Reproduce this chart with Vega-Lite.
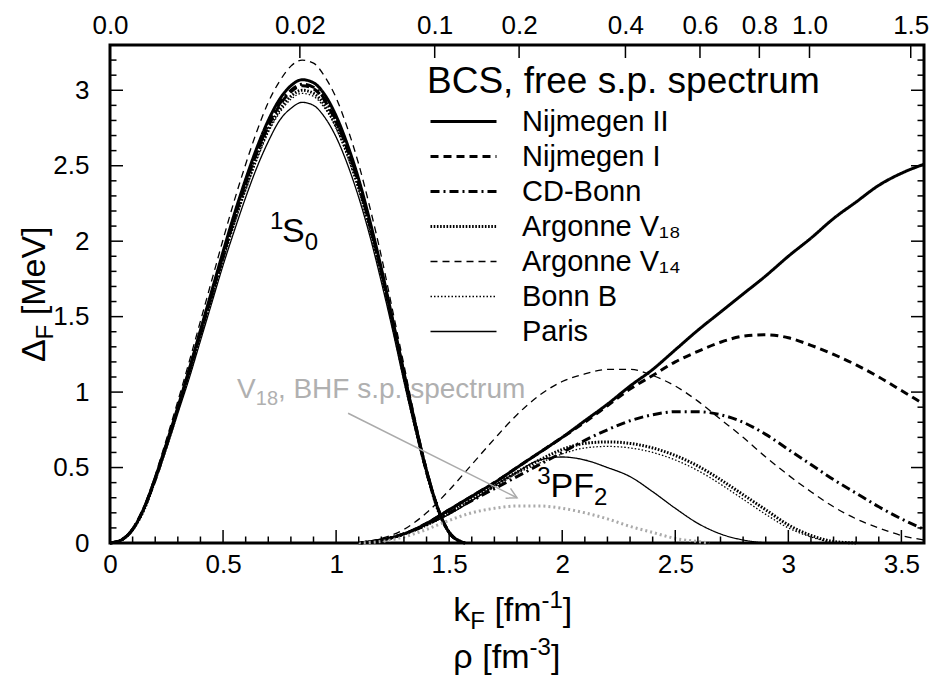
{
  "$schema": "https://vega.github.io/schema/vega-lite/v6.json",
  "width": 814,
  "height": 498,
  "autosize": {"type": "none"},
  "padding": {"left": 110, "top": 45, "right": 12, "bottom": 143},
  "background": "white",
  "config": {
    "view": {"stroke": "black", "strokeWidth": 3},
    "axis": {"domain": false, "grid": false, "ticks": false, "labelFont": "Liberation Sans", "labelFontSize": 26, "labelColor": "black", "labelFlush": false, "labelOverlap": false, "labelBound": false},
    "legend": {"labelFont": "Liberation Sans", "labelFontSize": 29, "labelColor": "black", "titleFont": "Liberation Sans", "titleFontSize": 37, "titleFontWeight": "normal", "titleColor": "black", "labelLimit": 0, "titleLimit": 0},
    "text": {"font": "Liberation Sans"}
  },
  "datasets": {
    "lab": [
      {"r": "m", "t": "S", "k": 0.761, "d": 1.993},
      {"r": "m", "t": "PF", "k": 1.948, "d": 0.305},
      {"r": "m", "t": "k", "k": 1.5177, "d": -0.5166},
      {"r": "m", "t": "[fm", "k": 1.70, "d": -0.5166},
      {"r": "m", "t": "]", "k": 2.0027, "d": -0.5166},
      {"r": "m", "t": "ρ", "k": 1.5177, "d": -0.8278},
      {"r": "m", "t": "[fm", "k": 1.6468, "d": -0.8278},
      {"r": "m", "t": "]", "k": 1.95, "d": -0.8278},
      {"r": "p", "t": "1", "k": 0.708, "d": 1.993},
      {"r": "p", "t": "3", "k": 1.89, "d": 0.305},
      {"r": "p", "t": "-1", "k": 1.9088, "d": -0.5166},
      {"r": "p", "t": "-3", "k": 1.8553, "d": -0.8278},
      {"r": "b", "t": "0", "k": 0.8615, "d": 1.993},
      {"r": "b", "t": "2", "k": 2.141, "d": 0.305},
      {"r": "b", "t": "F", "k": 1.5929, "d": -0.5166},
      {"r": "rm", "t": "Δ", "k": -0.2876, "d": 1.199},
      {"r": "rm", "t": "[MeV]", "k": -0.2876, "d": 1.509},
      {"r": "rb", "t": "F", "k": -0.2876, "d": 1.349},
      {"r": "gm", "t": "V", "k": 0.5619, "d": 0.96},
      {"r": "gm", "t": ", BHF s.p. spectrum", "k": 0.7425, "d": 0.96},
      {"r": "gb", "t": "18", "k": 0.6447, "d": 0.96}
    ]
  },
  "resolve": {"axis": {"x": "independent", "y": "independent"}},
  "layer": [
    {
      "data": {"values": [
        {"w": "S", "k": 0, "Nijmegen II": 0, "Nijmegen I": 0, "CD-Bonn": 0, "Argonne V₁₈": 0, "Argonne V₁₄": 0, "Bonn B": 0, "Paris": 0},
        {"w": "S", "k": 0.05, "Nijmegen II": 0.02, "Nijmegen I": 0.02, "CD-Bonn": 0.02, "Argonne V₁₈": 0.02, "Argonne V₁₄": 0.02, "Bonn B": 0.02, "Paris": 0.02},
        {"w": "S", "k": 0.1, "Nijmegen II": 0.09, "Nijmegen I": 0.09, "CD-Bonn": 0.09, "Argonne V₁₈": 0.09, "Argonne V₁₄": 0.09, "Bonn B": 0.09, "Paris": 0.09},
        {"w": "S", "k": 0.15, "Nijmegen II": 0.23, "Nijmegen I": 0.23, "CD-Bonn": 0.23, "Argonne V₁₈": 0.22, "Argonne V₁₄": 0.24, "Bonn B": 0.22, "Paris": 0.22},
        {"w": "S", "k": 0.2, "Nijmegen II": 0.43, "Nijmegen I": 0.42, "CD-Bonn": 0.43, "Argonne V₁₈": 0.42, "Argonne V₁₄": 0.45, "Bonn B": 0.42, "Paris": 0.41},
        {"w": "S", "k": 0.25, "Nijmegen II": 0.66, "Nijmegen I": 0.65, "CD-Bonn": 0.65, "Argonne V₁₈": 0.64, "Argonne V₁₄": 0.69, "Bonn B": 0.64, "Paris": 0.63},
        {"w": "S", "k": 0.3, "Nijmegen II": 0.9, "Nijmegen I": 0.89, "CD-Bonn": 0.89, "Argonne V₁₈": 0.88, "Argonne V₁₄": 0.94, "Bonn B": 0.87, "Paris": 0.86},
        {"w": "S", "k": 0.35, "Nijmegen II": 1.15, "Nijmegen I": 1.14, "CD-Bonn": 1.14, "Argonne V₁₈": 1.12, "Argonne V₁₄": 1.2, "Bonn B": 1.12, "Paris": 1.09},
        {"w": "S", "k": 0.4, "Nijmegen II": 1.41, "Nijmegen I": 1.39, "CD-Bonn": 1.4, "Argonne V₁₈": 1.38, "Argonne V₁₄": 1.47, "Bonn B": 1.37, "Paris": 1.34},
        {"w": "S", "k": 0.45, "Nijmegen II": 1.67, "Nijmegen I": 1.65, "CD-Bonn": 1.65, "Argonne V₁₈": 1.63, "Argonne V₁₄": 1.74, "Bonn B": 1.62, "Paris": 1.59},
        {"w": "S", "k": 0.5, "Nijmegen II": 1.93, "Nijmegen I": 1.9, "CD-Bonn": 1.91, "Argonne V₁₈": 1.89, "Argonne V₁₄": 2.01, "Bonn B": 1.87, "Paris": 1.84},
        {"w": "S", "k": 0.55, "Nijmegen II": 2.18, "Nijmegen I": 2.15, "CD-Bonn": 2.16, "Argonne V₁₈": 2.13, "Argonne V₁₄": 2.27, "Bonn B": 2.11, "Paris": 2.07},
        {"w": "S", "k": 0.6, "Nijmegen II": 2.41, "Nijmegen I": 2.38, "CD-Bonn": 2.39, "Argonne V₁₈": 2.35, "Argonne V₁₄": 2.51, "Bonn B": 2.34, "Paris": 2.29},
        {"w": "S", "k": 0.65, "Nijmegen II": 2.62, "Nijmegen I": 2.59, "CD-Bonn": 2.59, "Argonne V₁₈": 2.56, "Argonne V₁₄": 2.73, "Bonn B": 2.54, "Paris": 2.49},
        {"w": "S", "k": 0.7, "Nijmegen II": 2.8, "Nijmegen I": 2.76, "CD-Bonn": 2.77, "Argonne V₁₈": 2.74, "Argonne V₁₄": 2.92, "Bonn B": 2.72, "Paris": 2.66},
        {"w": "S", "k": 0.75, "Nijmegen II": 2.94, "Nijmegen I": 2.9, "CD-Bonn": 2.91, "Argonne V₁₈": 2.87, "Argonne V₁₄": 3.06, "Bonn B": 2.85, "Paris": 2.8},
        {"w": "S", "k": 0.8, "Nijmegen II": 3.03, "Nijmegen I": 2.99, "CD-Bonn": 3.0, "Argonne V₁₈": 2.96, "Argonne V₁₄": 3.16, "Bonn B": 2.94, "Paris": 2.88},
        {"w": "S", "k": 0.85, "Nijmegen II": 3.07, "Nijmegen I": 3.03, "CD-Bonn": 3.04, "Argonne V₁₈": 3.0, "Argonne V₁₄": 3.2, "Bonn B": 2.98, "Paris": 2.92},
        {"w": "S", "k": 0.9, "Nijmegen II": 3.05, "Nijmegen I": 3.01, "CD-Bonn": 3.02, "Argonne V₁₈": 2.98, "Argonne V₁₄": 3.18, "Bonn B": 2.96, "Paris": 2.9},
        {"w": "S", "k": 0.95, "Nijmegen II": 2.97, "Nijmegen I": 2.93, "CD-Bonn": 2.94, "Argonne V₁₈": 2.9, "Argonne V₁₄": 3.09, "Bonn B": 2.88, "Paris": 2.82},
        {"w": "S", "k": 1.0, "Nijmegen II": 2.83, "Nijmegen I": 2.79, "CD-Bonn": 2.8, "Argonne V₁₈": 2.76, "Argonne V₁₄": 2.95, "Bonn B": 2.75, "Paris": 2.69},
        {"w": "S", "k": 1.05, "Nijmegen II": 2.64, "Nijmegen I": 2.61, "CD-Bonn": 2.61, "Argonne V₁₈": 2.58, "Argonne V₁₄": 2.75, "Bonn B": 2.56, "Paris": 2.51},
        {"w": "S", "k": 1.1, "Nijmegen II": 2.41, "Nijmegen I": 2.38, "CD-Bonn": 2.39, "Argonne V₁₈": 2.35, "Argonne V₁₄": 2.51, "Bonn B": 2.34, "Paris": 2.29},
        {"w": "S", "k": 1.15, "Nijmegen II": 2.13, "Nijmegen I": 2.1, "CD-Bonn": 2.11, "Argonne V₁₈": 2.08, "Argonne V₁₄": 2.22, "Bonn B": 2.07, "Paris": 2.03},
        {"w": "S", "k": 1.2, "Nijmegen II": 1.82, "Nijmegen I": 1.8, "CD-Bonn": 1.8, "Argonne V₁₈": 1.78, "Argonne V₁₄": 1.9, "Bonn B": 1.77, "Paris": 1.73},
        {"w": "S", "k": 1.25, "Nijmegen II": 1.48, "Nijmegen I": 1.46, "CD-Bonn": 1.47, "Argonne V₁₈": 1.45, "Argonne V₁₄": 1.54, "Bonn B": 1.44, "Paris": 1.41},
        {"w": "S", "k": 1.3, "Nijmegen II": 1.13, "Nijmegen I": 1.12, "CD-Bonn": 1.12, "Argonne V₁₈": 1.1, "Argonne V₁₄": 1.18, "Bonn B": 1.1, "Paris": 1.07},
        {"w": "S", "k": 1.35, "Nijmegen II": 0.79, "Nijmegen I": 0.78, "CD-Bonn": 0.78, "Argonne V₁₈": 0.77, "Argonne V₁₄": 0.82, "Bonn B": 0.77, "Paris": 0.75},
        {"w": "S", "k": 1.4, "Nijmegen II": 0.48, "Nijmegen I": 0.47, "CD-Bonn": 0.48, "Argonne V₁₈": 0.47, "Argonne V₁₄": 0.5, "Bonn B": 0.47, "Paris": 0.46},
        {"w": "S", "k": 1.45, "Nijmegen II": 0.23, "Nijmegen I": 0.23, "CD-Bonn": 0.23, "Argonne V₁₈": 0.22, "Argonne V₁₄": 0.24, "Bonn B": 0.22, "Paris": 0.22},
        {"w": "S", "k": 1.5, "Nijmegen II": 0.07, "Nijmegen I": 0.07, "CD-Bonn": 0.07, "Argonne V₁₈": 0.07, "Argonne V₁₄": 0.07, "Bonn B": 0.07, "Paris": 0.07},
        {"w": "S", "k": 1.55, "Nijmegen II": 0.01, "Nijmegen I": 0.01, "CD-Bonn": 0.01, "Argonne V₁₈": 0.01, "Argonne V₁₄": 0.01, "Bonn B": 0.01, "Paris": 0.01},
        {"w": "S", "k": 1.57, "Nijmegen II": 0, "Nijmegen I": 0, "CD-Bonn": 0, "Argonne V₁₈": 0, "Argonne V₁₄": 0, "Bonn B": 0, "Paris": 0},
        {"w": "P", "k": 1.1, "Nijmegen II": 0, "Nijmegen I": 0, "CD-Bonn": 0, "Argonne V₁₈": 0, "Argonne V₁₄": 0, "Bonn B": 0, "Paris": 0},
        {"w": "P", "k": 1.2, "Nijmegen II": 0.02, "Nijmegen I": 0.02, "CD-Bonn": 0.02, "Argonne V₁₈": 0.02, "Argonne V₁₄": 0.03, "Bonn B": 0.02, "Paris": 0.02},
        {"w": "P", "k": 1.3, "Nijmegen II": 0.06, "Nijmegen I": 0.06, "CD-Bonn": 0.06, "Argonne V₁₈": 0.06, "Argonne V₁₄": 0.09, "Bonn B": 0.06, "Paris": 0.06},
        {"w": "P", "k": 1.4, "Nijmegen II": 0.13, "Nijmegen I": 0.13, "CD-Bonn": 0.12, "Argonne V₁₈": 0.12, "Argonne V₁₄": 0.2, "Bonn B": 0.12, "Paris": 0.12},
        {"w": "P", "k": 1.5, "Nijmegen II": 0.22, "Nijmegen I": 0.22, "CD-Bonn": 0.2, "Argonne V₁₈": 0.2, "Argonne V₁₄": 0.35, "Bonn B": 0.19, "Paris": 0.19},
        {"w": "P", "k": 1.6, "Nijmegen II": 0.31, "Nijmegen I": 0.31, "CD-Bonn": 0.28, "Argonne V₁₈": 0.29, "Argonne V₁₄": 0.52, "Bonn B": 0.28, "Paris": 0.28},
        {"w": "P", "k": 1.7, "Nijmegen II": 0.4, "Nijmegen I": 0.4, "CD-Bonn": 0.36, "Argonne V₁₈": 0.38, "Argonne V₁₄": 0.69, "Bonn B": 0.37, "Paris": 0.38},
        {"w": "P", "k": 1.8, "Nijmegen II": 0.5, "Nijmegen I": 0.5, "CD-Bonn": 0.44, "Argonne V₁₈": 0.47, "Argonne V₁₄": 0.85, "Bonn B": 0.46, "Paris": 0.47},
        {"w": "P", "k": 1.9, "Nijmegen II": 0.6, "Nijmegen I": 0.6, "CD-Bonn": 0.52, "Argonne V₁₈": 0.55, "Argonne V₁₄": 0.98, "Bonn B": 0.53, "Paris": 0.55},
        {"w": "P", "k": 2.0, "Nijmegen II": 0.7, "Nijmegen I": 0.7, "CD-Bonn": 0.6, "Argonne V₁₈": 0.62, "Argonne V₁₄": 1.07, "Bonn B": 0.59, "Paris": 0.57},
        {"w": "P", "k": 2.1, "Nijmegen II": 0.81, "Nijmegen I": 0.8, "CD-Bonn": 0.68, "Argonne V₁₈": 0.66, "Argonne V₁₄": 1.12, "Bonn B": 0.63, "Paris": 0.55},
        {"w": "P", "k": 2.2, "Nijmegen II": 0.92, "Nijmegen I": 0.91, "CD-Bonn": 0.75, "Argonne V₁₈": 0.67, "Argonne V₁₄": 1.15, "Bonn B": 0.64, "Paris": 0.5},
        {"w": "P", "k": 2.3, "Nijmegen II": 1.04, "Nijmegen I": 1.02, "CD-Bonn": 0.81, "Argonne V₁₈": 0.66, "Argonne V₁₄": 1.15, "Bonn B": 0.63, "Paris": 0.44},
        {"w": "P", "k": 2.4, "Nijmegen II": 1.15, "Nijmegen I": 1.11, "CD-Bonn": 0.85, "Argonne V₁₈": 0.63, "Argonne V₁₄": 1.11, "Bonn B": 0.6, "Paris": 0.34},
        {"w": "P", "k": 2.5, "Nijmegen II": 1.28, "Nijmegen I": 1.2, "CD-Bonn": 0.87, "Argonne V₁₈": 0.58, "Argonne V₁₄": 1.04, "Bonn B": 0.55, "Paris": 0.23},
        {"w": "P", "k": 2.6, "Nijmegen II": 1.41, "Nijmegen I": 1.27, "CD-Bonn": 0.87, "Argonne V₁₈": 0.51, "Argonne V₁₄": 0.94, "Bonn B": 0.48, "Paris": 0.13},
        {"w": "P", "k": 2.7, "Nijmegen II": 1.53, "Nijmegen I": 1.33, "CD-Bonn": 0.85, "Argonne V₁₈": 0.42, "Argonne V₁₄": 0.82, "Bonn B": 0.39, "Paris": 0.06},
        {"w": "P", "k": 2.8, "Nijmegen II": 1.65, "Nijmegen I": 1.37, "CD-Bonn": 0.8, "Argonne V₁₈": 0.32, "Argonne V₁₄": 0.7, "Bonn B": 0.29, "Paris": 0.02},
        {"w": "P", "k": 2.9, "Nijmegen II": 1.77, "Nijmegen I": 1.38, "CD-Bonn": 0.72, "Argonne V₁₈": 0.22, "Argonne V₁₄": 0.57, "Bonn B": 0.19, "Paris": 0},
        {"w": "P", "k": 3.0, "Nijmegen II": 1.9, "Nijmegen I": 1.36, "CD-Bonn": 0.62, "Argonne V₁₈": 0.12, "Argonne V₁₄": 0.45, "Bonn B": 0.1, "Paris": null},
        {"w": "P", "k": 3.1, "Nijmegen II": 2.02, "Nijmegen I": 1.31, "CD-Bonn": 0.52, "Argonne V₁₈": 0.05, "Argonne V₁₄": 0.34, "Bonn B": 0.04, "Paris": null},
        {"w": "P", "k": 3.2, "Nijmegen II": 2.15, "Nijmegen I": 1.25, "CD-Bonn": 0.42, "Argonne V₁₈": 0.01, "Argonne V₁₄": 0.24, "Bonn B": 0, "Paris": null},
        {"w": "P", "k": 3.3, "Nijmegen II": 2.26, "Nijmegen I": 1.18, "CD-Bonn": 0.33, "Argonne V₁₈": 0, "Argonne V₁₄": 0.16, "Bonn B": null, "Paris": null},
        {"w": "P", "k": 3.4, "Nijmegen II": 2.37, "Nijmegen I": 1.1, "CD-Bonn": 0.24, "Argonne V₁₈": null, "Argonne V₁₄": 0.1, "Bonn B": null, "Paris": null},
        {"w": "P", "k": 3.5, "Nijmegen II": 2.45, "Nijmegen I": 1.01, "CD-Bonn": 0.16, "Argonne V₁₈": null, "Argonne V₁₄": 0.05, "Bonn B": null, "Paris": null},
        {"w": "P", "k": 3.6, "Nijmegen II": 2.51, "Nijmegen I": 0.92, "CD-Bonn": 0.09, "Argonne V₁₈": null, "Argonne V₁₄": 0.02, "Bonn B": null, "Paris": null}
      ]},
      "transform": [{"fold": ["Nijmegen II", "Nijmegen I", "CD-Bonn", "Argonne V₁₈", "Argonne V₁₄", "Bonn B", "Paris"], "as": ["s", "d"]}],
      "mark": {"type": "line", "color": "black", "interpolate": "monotone"},
      "encoding": {
        "x": {"field": "k", "type": "quantitative", "scale": {"domain": [0, 3.6], "nice": false, "zero": false},
              "axis": {"orient": "bottom", "title": null, "values": [0, 0.5, 1, 1.5, 2, 2.5, 3, 3.5], "format": "~g", "labelPadding": 8}},
        "y": {"field": "d", "type": "quantitative", "scale": {"domain": [0, 3.3], "nice": false, "zero": false},
              "axis": {"orient": "left", "title": null, "values": [0, 0.5, 1, 1.5, 2, 2.5, 3], "format": "~g", "labelPadding": 21}},
        "detail": {"field": "w"},
        "strokeDash": {"field": "s", "type": "nominal",
          "scale": {"domain": ["Nijmegen II", "Nijmegen I", "CD-Bonn", "Argonne V₁₈", "Argonne V₁₄", "Bonn B", "Paris"],
                    "range": [[1, 0], [8, 5], [9, 4, 2, 4], [1.6, 1.6], [7, 5], [1.5, 2], [1, 0]]},
          "legend": {"title": "BCS, free s.p. spectrum", "orient": "none", "legendX": 317, "legendY": 19, "padding": 0,
                     "symbolType": "M -1 0 L 5 0", "symbolSize": 484, "symbolStrokeColor": "black", "symbolFillColor": "transparent",
                     "labelOffset": 66, "rowPadding": 5, "titlePadding": 6}},
        "strokeWidth": {"field": "s", "type": "nominal",
          "scale": {"type": "ordinal", "domain": ["Nijmegen II", "Nijmegen I", "CD-Bonn", "Argonne V₁₈", "Argonne V₁₄", "Bonn B", "Paris"],
                    "range": [3, 3, 3, 3, 1.3, 1.3, 1.3]},
          "legend": {"title": "BCS, free s.p. spectrum", "orient": "none", "legendX": 317, "legendY": 19, "padding": 0,
                     "symbolType": "M -1 0 L 5 0", "symbolSize": 484, "symbolStrokeColor": "black", "symbolFillColor": "transparent",
                     "labelOffset": 66, "rowPadding": 5, "titlePadding": 6}}
      }
    },
    {
      "data": {"values": [
        {"k": 1.1, "d": 0}, {"k": 1.2, "d": 0.01}, {"k": 1.3, "d": 0.04}, {"k": 1.4, "d": 0.09},
        {"k": 1.5, "d": 0.15}, {"k": 1.6, "d": 0.2}, {"k": 1.7, "d": 0.23}, {"k": 1.8, "d": 0.245},
        {"k": 1.9, "d": 0.245}, {"k": 2.0, "d": 0.23}, {"k": 2.1, "d": 0.2}, {"k": 2.2, "d": 0.16},
        {"k": 2.3, "d": 0.11}, {"k": 2.4, "d": 0.07}, {"k": 2.5, "d": 0.03}, {"k": 2.6, "d": 0.01}, {"k": 2.65, "d": 0}
      ]},
      "mark": {"type": "line", "color": "#aaaaaa", "strokeWidth": 3, "strokeDash": [2, 3], "interpolate": "monotone"},
      "encoding": {
        "x": {"field": "k", "type": "quantitative", "scale": {"domain": [0, 3.6], "nice": false, "zero": false}, "axis": null},
        "y": {"field": "d", "type": "quantitative", "scale": {"domain": [0, 3.3], "nice": false, "zero": false}, "axis": null}
      }
    },
    {
      "data": {"name": "lab"},
      "transform": [{"filter": "datum.r == 'm'"}],
      "mark": {"type": "text", "align": "left", "baseline": "alphabetic", "fontSize": 34, "color": "black"},
      "encoding": {
        "x": {"field": "k", "type": "quantitative", "scale": {"domain": [0, 3.6], "nice": false, "zero": false},
              "axis": {"orient": "top", "title": null, "labelPadding": 12, "labelBaseline": "alphabetic",
                       "values": [0, 0.8397, 1.436, 1.8093, 2.2796, 2.6092, 2.8718, 3.0936, 3.5413],
                       "labelExpr": "datum.value < 0.4 ? '0.0' : datum.value < 1.1 ? '0.02' : datum.value < 1.6 ? '0.1' : datum.value < 2 ? '0.2' : datum.value < 2.4 ? '0.4' : datum.value < 2.7 ? '0.6' : datum.value < 3 ? '0.8' : datum.value < 3.3 ? '1.0' : '1.5'"}},
        "y": {"field": "d", "type": "quantitative", "scale": {"domain": [0, 3.3], "nice": false, "zero": false}, "axis": null},
        "text": {"field": "t"}
      }
    },
    {
      "data": {"name": "lab"},
      "transform": [{"filter": "datum.r == 'p'"}],
      "mark": {"type": "text", "align": "left", "baseline": "alphabetic", "fontSize": 24, "dy": -13, "color": "black"},
      "encoding": {
        "x": {"field": "k", "type": "quantitative", "scale": {"domain": [0, 3.6], "nice": false, "zero": false}, "axis": null},
        "y": {"field": "d", "type": "quantitative", "scale": {"domain": [0, 3.3], "nice": false, "zero": false}, "axis": null},
        "text": {"field": "t"}
      }
    },
    {
      "data": {"name": "lab"},
      "transform": [{"filter": "datum.r == 'b'"}],
      "mark": {"type": "text", "align": "left", "baseline": "alphabetic", "fontSize": 24, "dy": 8, "color": "black"},
      "encoding": {
        "x": {"field": "k", "type": "quantitative", "scale": {"domain": [0, 3.6], "nice": false, "zero": false}, "axis": null},
        "y": {"field": "d", "type": "quantitative", "scale": {"domain": [0, 3.3], "nice": false, "zero": false}, "axis": null},
        "text": {"field": "t"}
      }
    },
    {
      "data": {"name": "lab"},
      "transform": [{"filter": "datum.r == 'rm'"}],
      "mark": {"type": "text", "align": "left", "baseline": "alphabetic", "fontSize": 34, "angle": 270, "color": "black"},
      "encoding": {
        "x": {"field": "k", "type": "quantitative", "scale": {"domain": [0, 3.6], "nice": false, "zero": false}, "axis": null},
        "y": {"field": "d", "type": "quantitative", "scale": {"domain": [0, 3.3], "nice": false, "zero": false}, "axis": null},
        "text": {"field": "t"}
      }
    },
    {
      "data": {"name": "lab"},
      "transform": [{"filter": "datum.r == 'rb'"}],
      "mark": {"type": "text", "align": "left", "baseline": "alphabetic", "fontSize": 24, "angle": 270, "dy": 8, "color": "black"},
      "encoding": {
        "x": {"field": "k", "type": "quantitative", "scale": {"domain": [0, 3.6], "nice": false, "zero": false}, "axis": null},
        "y": {"field": "d", "type": "quantitative", "scale": {"domain": [0, 3.3], "nice": false, "zero": false}, "axis": null},
        "text": {"field": "t"}
      }
    },
    {
      "data": {"name": "lab"},
      "transform": [{"filter": "datum.r == 'gm'"}],
      "mark": {"type": "text", "align": "left", "baseline": "alphabetic", "fontSize": 28, "color": "#b0b0b0"},
      "encoding": {
        "x": {"field": "k", "type": "quantitative", "scale": {"domain": [0, 3.6], "nice": false, "zero": false}, "axis": null},
        "y": {"field": "d", "type": "quantitative", "scale": {"domain": [0, 3.3], "nice": false, "zero": false}, "axis": null},
        "text": {"field": "t"}
      }
    },
    {
      "data": {"name": "lab"},
      "transform": [{"filter": "datum.r == 'gb'"}],
      "mark": {"type": "text", "align": "left", "baseline": "alphabetic", "fontSize": 20, "dy": 7, "color": "#b0b0b0"},
      "encoding": {
        "x": {"field": "k", "type": "quantitative", "scale": {"domain": [0, 3.6], "nice": false, "zero": false}, "axis": null},
        "y": {"field": "d", "type": "quantitative", "scale": {"domain": [0, 3.3], "nice": false, "zero": false}, "axis": null},
        "text": {"field": "t"}
      }
    },
    {
      "data": {"values": [{"k": 1.053, "d": 0.86, "k2": 1.8, "d2": 0.3}]},
      "mark": {"type": "rule", "color": "#aaaaaa", "strokeWidth": 1.5},
      "encoding": {
        "x": {"field": "k", "type": "quantitative", "scale": {"domain": [0, 3.6], "nice": false, "zero": false}, "axis": null},
        "y": {"field": "d", "type": "quantitative", "scale": {"domain": [0, 3.3], "nice": false, "zero": false}, "axis": null},
        "x2": {"field": "k2"},
        "y2": {"field": "d2"}
      }
    },
    {
      "data": {"values": [{"k": 1.8, "d": 0.3}]},
      "mark": {"type": "point", "shape": "M -1 -0.55 L 0 0 L -1 0.55", "size": 400, "angle": 26.6, "filled": false, "color": "#aaaaaa", "strokeWidth": 1.5, "opacity": 1},
      "encoding": {
        "x": {"field": "k", "type": "quantitative", "scale": {"domain": [0, 3.6], "nice": false, "zero": false}, "axis": null},
        "y": {"field": "d", "type": "quantitative", "scale": {"domain": [0, 3.3], "nice": false, "zero": false}, "axis": null}
      }
    },
    {
      "data": {"values": [{"v": 0.5, "b": 0}, {"v": 1, "b": 0}, {"v": 1.5, "b": 0}, {"v": 2, "b": 0}, {"v": 2.5, "b": 0}, {"v": 3, "b": 0}, {"v": 3.5, "b": 0}]},
      "mark": {"type": "rule", "color": "black", "strokeWidth": 1.5, "y2Offset": -13},
      "encoding": {
        "x": {"field": "v", "type": "quantitative", "scale": {"domain": [0, 3.6], "nice": false, "zero": false}, "axis": null},
        "y": {"field": "b", "type": "quantitative", "scale": {"domain": [0, 3.3], "nice": false, "zero": false}, "axis": null},
        "y2": {"field": "b"}
      }
    },
    {
      "data": {"values": [
        {"v": 0.1, "b": 0}, {"v": 0.2, "b": 0}, {"v": 0.3, "b": 0}, {"v": 0.4, "b": 0}, {"v": 0.6, "b": 0}, {"v": 0.7, "b": 0}, {"v": 0.8, "b": 0}, {"v": 0.9, "b": 0},
        {"v": 1.1, "b": 0}, {"v": 1.2, "b": 0}, {"v": 1.3, "b": 0}, {"v": 1.4, "b": 0}, {"v": 1.6, "b": 0}, {"v": 1.7, "b": 0}, {"v": 1.8, "b": 0}, {"v": 1.9, "b": 0},
        {"v": 2.1, "b": 0}, {"v": 2.2, "b": 0}, {"v": 2.3, "b": 0}, {"v": 2.4, "b": 0}, {"v": 2.6, "b": 0}, {"v": 2.7, "b": 0}, {"v": 2.8, "b": 0}, {"v": 2.9, "b": 0},
        {"v": 3.1, "b": 0}, {"v": 3.2, "b": 0}, {"v": 3.3, "b": 0}, {"v": 3.4, "b": 0}
      ]},
      "mark": {"type": "rule", "color": "black", "strokeWidth": 1.5, "y2Offset": -6.5},
      "encoding": {
        "x": {"field": "v", "type": "quantitative", "scale": {"domain": [0, 3.6], "nice": false, "zero": false}, "axis": null},
        "y": {"field": "b", "type": "quantitative", "scale": {"domain": [0, 3.3], "nice": false, "zero": false}, "axis": null},
        "y2": {"field": "b"}
      }
    },
    {
      "data": {"values": [{"v": 0.8397, "b": 3.3}, {"v": 1.436, "b": 3.3}, {"v": 1.8093, "b": 3.3}, {"v": 2.2796, "b": 3.3}, {"v": 2.6092, "b": 3.3}, {"v": 2.8718, "b": 3.3}, {"v": 3.0936, "b": 3.3}, {"v": 3.5413, "b": 3.3}]},
      "mark": {"type": "rule", "color": "black", "strokeWidth": 1.5, "y2Offset": 13},
      "encoding": {
        "x": {"field": "v", "type": "quantitative", "scale": {"domain": [0, 3.6], "nice": false, "zero": false}, "axis": null},
        "y": {"field": "b", "type": "quantitative", "scale": {"domain": [0, 3.3], "nice": false, "zero": false}, "axis": null},
        "y2": {"field": "b"}
      }
    },
    {
      "data": {"values": [{"v": 0.5, "b": 0}, {"v": 1, "b": 0}, {"v": 1.5, "b": 0}, {"v": 2, "b": 0}, {"v": 2.5, "b": 0}, {"v": 3, "b": 0}]},
      "mark": {"type": "rule", "color": "black", "strokeWidth": 1.5, "x2Offset": 13},
      "encoding": {
        "y": {"field": "v", "type": "quantitative", "scale": {"domain": [0, 3.3], "nice": false, "zero": false}, "axis": null},
        "x": {"field": "b", "type": "quantitative", "scale": {"domain": [0, 3.6], "nice": false, "zero": false}, "axis": null},
        "x2": {"field": "b"}
      }
    },
    {
      "data": {"values": [
        {"v": 0.1, "b": 0}, {"v": 0.2, "b": 0}, {"v": 0.3, "b": 0}, {"v": 0.4, "b": 0}, {"v": 0.6, "b": 0}, {"v": 0.7, "b": 0}, {"v": 0.8, "b": 0}, {"v": 0.9, "b": 0},
        {"v": 1.1, "b": 0}, {"v": 1.2, "b": 0}, {"v": 1.3, "b": 0}, {"v": 1.4, "b": 0}, {"v": 1.6, "b": 0}, {"v": 1.7, "b": 0}, {"v": 1.8, "b": 0}, {"v": 1.9, "b": 0},
        {"v": 2.1, "b": 0}, {"v": 2.2, "b": 0}, {"v": 2.3, "b": 0}, {"v": 2.4, "b": 0}, {"v": 2.6, "b": 0}, {"v": 2.7, "b": 0}, {"v": 2.8, "b": 0}, {"v": 2.9, "b": 0},
        {"v": 3.1, "b": 0}, {"v": 3.2, "b": 0}
      ]},
      "mark": {"type": "rule", "color": "black", "strokeWidth": 1.5, "x2Offset": 6.5},
      "encoding": {
        "y": {"field": "v", "type": "quantitative", "scale": {"domain": [0, 3.3], "nice": false, "zero": false}, "axis": null},
        "x": {"field": "b", "type": "quantitative", "scale": {"domain": [0, 3.6], "nice": false, "zero": false}, "axis": null},
        "x2": {"field": "b"}
      }
    },
    {
      "data": {"values": [{"v": 0.5, "b": 3.6}, {"v": 1, "b": 3.6}, {"v": 1.5, "b": 3.6}, {"v": 2, "b": 3.6}, {"v": 2.5, "b": 3.6}, {"v": 3, "b": 3.6}]},
      "mark": {"type": "rule", "color": "black", "strokeWidth": 1.5, "x2Offset": -13},
      "encoding": {
        "y": {"field": "v", "type": "quantitative", "scale": {"domain": [0, 3.3], "nice": false, "zero": false}, "axis": null},
        "x": {"field": "b", "type": "quantitative", "scale": {"domain": [0, 3.6], "nice": false, "zero": false}, "axis": null},
        "x2": {"field": "b"}
      }
    },
    {
      "data": {"values": [
        {"v": 0.1, "b": 3.6}, {"v": 0.2, "b": 3.6}, {"v": 0.3, "b": 3.6}, {"v": 0.4, "b": 3.6}, {"v": 0.6, "b": 3.6}, {"v": 0.7, "b": 3.6}, {"v": 0.8, "b": 3.6}, {"v": 0.9, "b": 3.6},
        {"v": 1.1, "b": 3.6}, {"v": 1.2, "b": 3.6}, {"v": 1.3, "b": 3.6}, {"v": 1.4, "b": 3.6}, {"v": 1.6, "b": 3.6}, {"v": 1.7, "b": 3.6}, {"v": 1.8, "b": 3.6}, {"v": 1.9, "b": 3.6},
        {"v": 2.1, "b": 3.6}, {"v": 2.2, "b": 3.6}, {"v": 2.3, "b": 3.6}, {"v": 2.4, "b": 3.6}, {"v": 2.6, "b": 3.6}, {"v": 2.7, "b": 3.6}, {"v": 2.8, "b": 3.6}, {"v": 2.9, "b": 3.6},
        {"v": 3.1, "b": 3.6}, {"v": 3.2, "b": 3.6}
      ]},
      "mark": {"type": "rule", "color": "black", "strokeWidth": 1.5, "x2Offset": -6.5},
      "encoding": {
        "y": {"field": "v", "type": "quantitative", "scale": {"domain": [0, 3.3], "nice": false, "zero": false}, "axis": null},
        "x": {"field": "b", "type": "quantitative", "scale": {"domain": [0, 3.6], "nice": false, "zero": false}, "axis": null},
        "x2": {"field": "b"}
      }
    }
  ]
}
